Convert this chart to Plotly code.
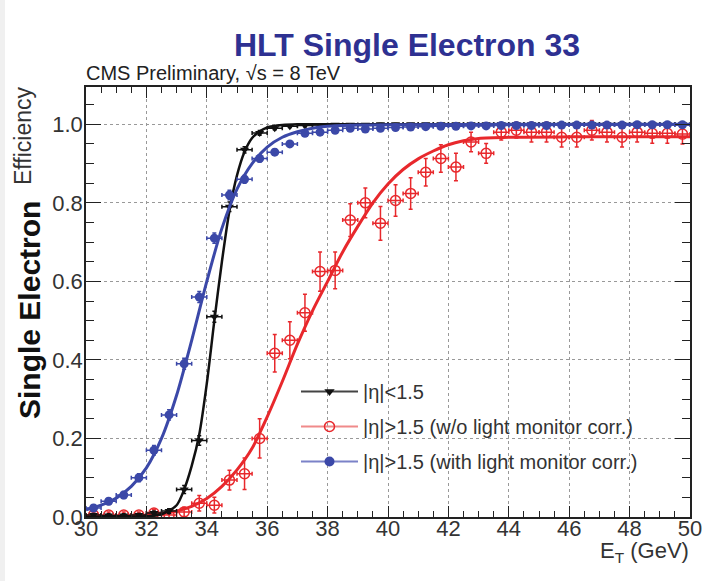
import plotly.graph_objects as go

# ---------------- data ----------------
bins = [30.25, 30.75, 31.25, 31.75, 32.25, 32.75, 33.25, 33.75, 34.25, 34.75,
        35.25, 35.75, 36.25, 36.75, 37.25, 37.75, 38.25, 38.75, 39.25, 39.75,
        40.25, 40.75, 41.25, 41.75, 42.25, 42.75, 43.25, 43.75, 44.25, 44.75,
        45.25, 45.75, 46.25, 46.75, 47.25, 47.75, 48.25, 48.75, 49.25, 49.75]
bin_half = [0.25] * len(bins)

black_eff = [0.005, 0.004, 0.004, 0.005, 0.010, 0.015, 0.070, 0.195, 0.510, 0.790,
             0.935, 0.978, 0.990, 0.995, 0.997, 0.998, 0.999, 0.999, 0.999, 1.000,
             1.000, 1.000, 1.000, 1.000, 1.000, 1.000, 1.000, 1.000, 1.000, 1.000,
             1.000, 1.000, 1.000, 1.000, 1.000, 1.000, 1.000, 1.000, 1.000, 1.000]
black_err = [0.004, 0.004, 0.004, 0.004, 0.005, 0.006, 0.010, 0.012, 0.014, 0.012,
             0.008, 0.006, 0.004, 0.003, 0.003, 0.002, 0.002, 0.002, 0.002, 0.002,
             0.002, 0.002, 0.002, 0.002, 0.002, 0.002, 0.002, 0.002, 0.002, 0.002,
             0.002, 0.002, 0.002, 0.002, 0.002, 0.002, 0.002, 0.002, 0.002, 0.002]

red_eff = [0.005, 0.005, 0.005, 0.005, 0.010, 0.005, 0.013, 0.035, 0.030, 0.094,
           0.110, 0.200, 0.417, 0.450, 0.520, 0.625, 0.628, 0.756, 0.800, 0.748,
           0.806, 0.824, 0.878, 0.913, 0.891, 0.955, 0.926, 0.980, 0.985, 0.980,
           0.980, 0.967, 0.967, 0.985, 0.980, 0.967, 0.980, 0.977, 0.977, 0.975]
red_err = [0.008, 0.008, 0.008, 0.008, 0.010, 0.010, 0.012, 0.020, 0.020, 0.025,
           0.040, 0.050, 0.048, 0.047, 0.047, 0.050, 0.047, 0.042, 0.038, 0.043,
           0.040, 0.040, 0.035, 0.035, 0.035, 0.025, 0.025, 0.020, 0.020, 0.025,
           0.025, 0.025, 0.025, 0.025, 0.025, 0.025, 0.025, 0.025, 0.025, 0.025]

blue_eff = [0.023, 0.040, 0.056, 0.100, 0.170, 0.260, 0.390, 0.560, 0.710, 0.820,
            0.860, 0.913, 0.929, 0.950, 0.977, 0.980, 0.985, 0.990, 0.988, 0.990,
            0.992, 0.993, 0.994, 0.995, 0.995, 0.996, 0.996, 0.997, 0.997, 0.997,
            0.997, 0.998, 0.998, 0.998, 0.998, 0.998, 0.999, 0.999, 0.999, 0.999]
blue_err = [0.008, 0.008, 0.009, 0.010, 0.012, 0.013, 0.014, 0.014, 0.013, 0.012,
            0.010, 0.009, 0.008, 0.007, 0.006, 0.006, 0.005, 0.005, 0.005, 0.004,
            0.004, 0.004, 0.004, 0.004, 0.004, 0.004, 0.004, 0.004, 0.004, 0.004,
            0.004, 0.004, 0.004, 0.004, 0.004, 0.004, 0.004, 0.004, 0.004, 0.004]

# fitted turn-on curves
black_fit_x = [30, 31, 32, 32.5, 33, 33.25, 33.5, 33.75, 34, 34.25, 34.5, 34.75,
               35, 35.25, 35.5, 35.75, 36, 36.5, 37, 38, 40, 45, 50]
black_fit_y = [0.0, 0.0, 0.002, 0.007, 0.03, 0.07, 0.13, 0.21, 0.34, 0.50, 0.65, 0.78,
               0.87, 0.93, 0.965, 0.982, 0.992, 0.998, 1.0, 1.0, 1.0, 1.0, 1.0]

blue_fit_x = [30, 30.5, 31, 31.5, 32, 32.5, 33, 33.5, 34, 34.5, 35, 35.5, 36,
              36.5, 37, 37.5, 38, 39, 40, 45, 50]
blue_fit_y = [0.018, 0.030, 0.048, 0.078, 0.125, 0.200, 0.310, 0.450, 0.600, 0.735,
              0.835, 0.900, 0.942, 0.967, 0.981, 0.990, 0.995, 0.998, 0.999, 1.0, 1.0]

red_fit_x = [30, 31, 32, 32.5, 33, 33.5, 34, 34.5, 35, 35.5, 36, 36.5, 37, 37.5,
             38, 38.5, 39, 39.5, 40, 40.5, 41, 41.5, 42, 42.5, 43, 44, 46, 50]
red_fit_y = [0.0, 0.001, 0.004, 0.008, 0.015, 0.027, 0.047, 0.078, 0.120, 0.175,
             0.255, 0.345, 0.440, 0.525, 0.600, 0.675, 0.740, 0.800, 0.848, 0.885,
             0.912, 0.932, 0.948, 0.958, 0.964, 0.967, 0.968, 0.968]

x_ticks = [30, 32, 34, 36, 38, 40, 42, 44, 46, 48, 50]
y_ticks = [0.0, 0.2, 0.4, 0.6, 0.8, 1.0]
y_tick_labels = ["0.0", "0.2", "0.4", "0.6", "0.8", "1.0"]

legend_labels = ["|η|<1.5",
                 "|η|>1.5 (w/o light monitor corr.)",
                 "|η|>1.5 (with light monitor corr.)"]

# ---------------- styling ----------------
BLACK = "#111111"
RED = "#e8282c"
BLUE = "#3b48a8"
FONT = "Liberation Sans, Arial, sans-serif"

W, H = 724, 581
L, R, T, B = 86, 34, 87, 64
PW, PH = W - L - R, H - T - B


def px(xp):
    return (xp - L) / PW


def py(yp):
    return (H - B - yp) / PH


fig = go.Figure()


def add_series(eff, err, color, symbol, size, open_marker):
    fig.add_trace(go.Scatter(
        x=bins, y=eff, mode="markers", showlegend=False,
        marker=dict(symbol=symbol, size=size, color=color,
                    line=dict(color=color, width=1.5 if open_marker else 0)),
        error_y=dict(type="data", array=err, color=color, thickness=1.5, width=2),
        error_x=dict(type="data", array=bin_half, color=color, thickness=1.5, width=2),
    ))


def add_fit(xv, yv, color, width):
    fig.add_trace(go.Scatter(x=xv, y=yv, mode="lines", showlegend=False,
                             line=dict(color=color, width=width, shape="spline",
                                       smoothing=0.8),
                             hoverinfo="skip"))


add_series(red_eff, red_err, RED, "circle-open", 10, True)
add_fit(red_fit_x, red_fit_y, RED, 3)
add_series(black_eff, black_err, BLACK, "triangle-down", 8, False)
add_fit(black_fit_x, black_fit_y, BLACK, 2.5)
add_series(blue_eff, blue_err, BLUE, "circle", 9, False)
add_fit(blue_fit_x, blue_fit_y, BLUE, 3)

# legend entries
leg_styles = [
    ("#444444", BLACK, "triangle-down", 9, False),
    ("#f08a8a", RED, "circle-open", 10, True),
    ("#7b82c8", BLUE, "circle", 10, False),
]
for i, (lc, mc, sym, sz, op) in enumerate(leg_styles):
    fig.add_trace(go.Scatter(
        x=[None], y=[None], mode="lines+markers", name=legend_labels[i],
        legendgroup=f"g{i}",
        line=dict(color=lc, width=2),
        marker=dict(symbol=sym, size=sz, color=mc,
                    line=dict(color=mc, width=1.5 if op else 0)),
    ))

axis_common = dict(
    showline=True, linecolor="#222222", linewidth=1.5, mirror="allticks",
    ticks="inside", tickcolor="#222222", tickwidth=1.2,
    showgrid=True, gridcolor="#999999", griddash="dot", gridwidth=1,
    zeroline=False,
    tickfont=dict(family=FONT, size=22, color="#333333"),
)

fig.update_xaxes(range=[30, 50], tickvals=x_ticks, ticklen=11,
                 ticklabelstandoff=-9,
                 minor=dict(dtick=0.5, ticks="inside", ticklen=6,
                            tickcolor="#222222", showgrid=False),
                 **axis_common)
fig.update_yaxes(range=[0, 1.095], tickvals=y_ticks, ticktext=y_tick_labels,
                 ticklen=15, ticklabelstandoff=-3,
                 minor=dict(dtick=0.05, ticks="inside", ticklen=8,
                            tickcolor="#222222", showgrid=False),
                 **axis_common)

annotations = [
    dict(text="<b>HLT Single Electron 33</b>", x=px(407), y=py(45),
         xanchor="center", yanchor="middle",
         font=dict(family=FONT, size=32, color="#2e3192")),
    dict(text="CMS Preliminary, √s = 8 TeV", x=px(84), y=py(73),
         xanchor="left", yanchor="middle",
         font=dict(family=FONT, size=20, color="#222222")),
    dict(text="Efficiency", x=px(23), y=py(136), textangle=-90,
         xanchor="center", yanchor="middle",
         font=dict(family=FONT, size=23, color="#333333")),
    dict(text="<b>Single Electron</b>", x=px(29), y=py(310), textangle=-90,
         xanchor="center", yanchor="middle",
         font=dict(family=FONT, size=30, color="#111111")),
    dict(text="E<sub>T</sub> (GeV)", x=px(691), y=py(552),
         xanchor="right", yanchor="middle",
         font=dict(family=FONT, size=22, color="#333333")),
]
for a in annotations:
    a.update(xref="paper", yref="paper", showarrow=False)

fig.update_layout(
    width=W, height=H,
    margin=dict(l=L, r=R, t=T, b=B),
    paper_bgcolor="white", plot_bgcolor="white",
    annotations=annotations,
    showlegend=True,
    legend=dict(x=px(296), y=py(372), xanchor="left", yanchor="top",
                bgcolor="rgba(0,0,0,0)", borderwidth=0,
                itemwidth=57, tracegroupgap=6,
                font=dict(family=FONT, size=20, color="#333333")),
    shapes=[dict(type="rect", xref="paper", yref="paper",
                 x0=px(0), x1=px(5), y0=py(581), y1=py(0),
                 fillcolor="#f0f0f0", line=dict(width=0), layer="below")],
)

fig.write_html("out.html")
